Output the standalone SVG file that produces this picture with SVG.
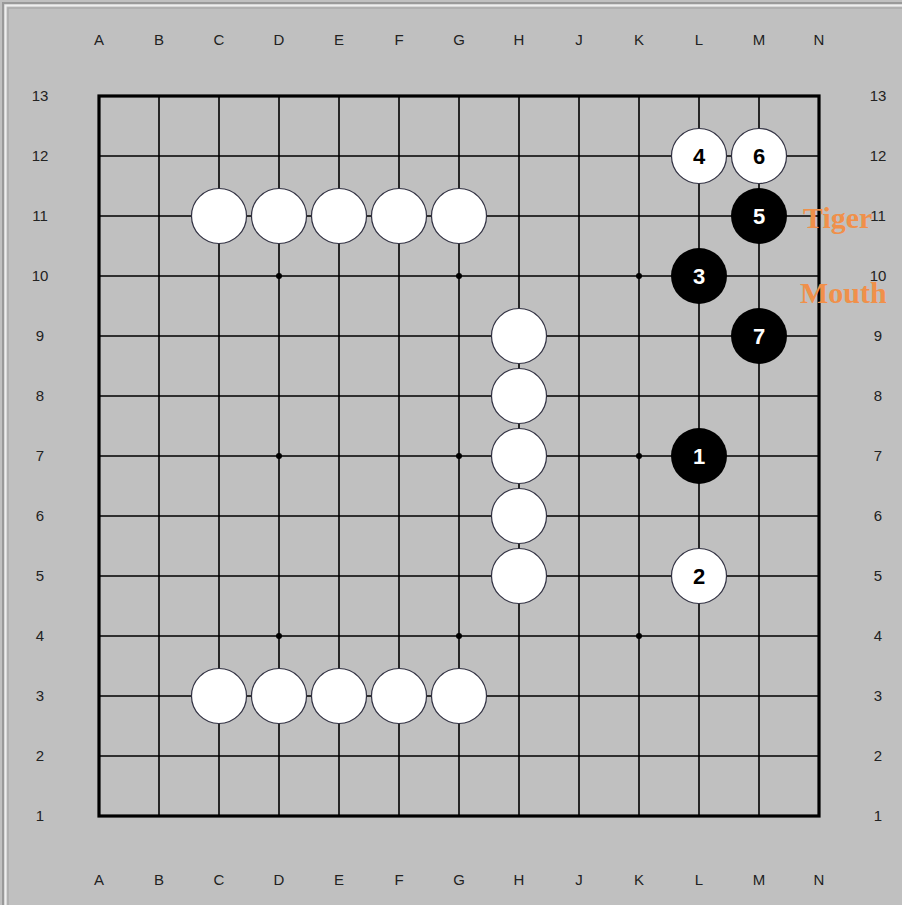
<svg xmlns="http://www.w3.org/2000/svg" width="902" height="905" viewBox="0 0 902 905">
<style>
.bg{fill:#c0c0c0}
.ln{stroke:#000;stroke-width:1.6}
.lbl{font-family:"Liberation Sans",Arial,sans-serif;font-size:15px;fill:#222;text-anchor:middle}
.w{fill:#fff;stroke:#334;stroke-width:1.2}
.b{fill:#000}
.nw{font-family:"Liberation Sans",Arial,sans-serif;font-weight:bold;font-size:22px;fill:#000;text-anchor:middle}
.nb{font-family:"Liberation Sans",Arial,sans-serif;font-weight:bold;font-size:22px;fill:#fff;text-anchor:middle}
.or{font-family:"Liberation Serif","Times New Roman",serif;font-weight:bold;font-size:30px;fill:#f0904a}
</style>
<rect width="902" height="905" class="bg"/>
<rect x="3" y="3" width="910" height="910" fill="none" stroke="#999" stroke-width="2"/>
<rect x="5.5" y="5.5" width="910" height="910" fill="none" stroke="#eee" stroke-width="2"/>
<rect x="8" y="8" width="910" height="910" fill="none" stroke="#aaa" stroke-width="1.5"/>
<g id="labels">
<g id="top-labels">
<text class="lbl" x="99" y="45">A</text><text class="lbl" x="159" y="45">B</text><text class="lbl" x="219" y="45">C</text><text class="lbl" x="279" y="45">D</text><text class="lbl" x="339" y="45">E</text><text class="lbl" x="399" y="45">F</text><text class="lbl" x="459" y="45">G</text><text class="lbl" x="519" y="45">H</text><text class="lbl" x="579" y="45">J</text><text class="lbl" x="639" y="45">K</text><text class="lbl" x="699" y="45">L</text><text class="lbl" x="759" y="45">M</text><text class="lbl" x="819" y="45">N</text>
</g>
<g id="bottom-labels">
<text class="lbl" x="99" y="885">A</text><text class="lbl" x="159" y="885">B</text><text class="lbl" x="219" y="885">C</text><text class="lbl" x="279" y="885">D</text><text class="lbl" x="339" y="885">E</text><text class="lbl" x="399" y="885">F</text><text class="lbl" x="459" y="885">G</text><text class="lbl" x="519" y="885">H</text><text class="lbl" x="579" y="885">J</text><text class="lbl" x="639" y="885">K</text><text class="lbl" x="699" y="885">L</text><text class="lbl" x="759" y="885">M</text><text class="lbl" x="819" y="885">N</text>
</g>
<g id="left-labels">
<text class="lbl" x="40" y="101">13</text><text class="lbl" x="40" y="161">12</text><text class="lbl" x="40" y="221">11</text><text class="lbl" x="40" y="281">10</text><text class="lbl" x="40" y="341">9</text><text class="lbl" x="40" y="401">8</text><text class="lbl" x="40" y="461">7</text><text class="lbl" x="40" y="521">6</text><text class="lbl" x="40" y="581">5</text><text class="lbl" x="40" y="641">4</text><text class="lbl" x="40" y="701">3</text><text class="lbl" x="40" y="761">2</text><text class="lbl" x="40" y="821">1</text>
</g>
<g id="right-labels">
<text class="lbl" x="878" y="101">13</text><text class="lbl" x="878" y="161">12</text><text class="lbl" x="878" y="221">11</text><text class="lbl" x="878" y="281">10</text><text class="lbl" x="878" y="341">9</text><text class="lbl" x="878" y="401">8</text><text class="lbl" x="878" y="461">7</text><text class="lbl" x="878" y="521">6</text><text class="lbl" x="878" y="581">5</text><text class="lbl" x="878" y="641">4</text><text class="lbl" x="878" y="701">3</text><text class="lbl" x="878" y="761">2</text><text class="lbl" x="878" y="821">1</text>
</g>
</g>
<g id="grid">
<path class="ln" d="M99 156H819M99 216H819M99 276H819M99 336H819M99 396H819M99 456H819M99 516H819M99 576H819M99 636H819M99 696H819M99 756H819"/>
<path class="ln" d="M159 96V816M219 96V816M279 96V816M339 96V816M399 96V816M459 96V816M519 96V816M579 96V816M639 96V816M699 96V816M759 96V816"/>
<rect x="99" y="96" width="720" height="720" fill="none" stroke="#000" stroke-width="3.2"/>
<g fill="#000">
<circle cx="279" cy="276" r="3"/><circle cx="459" cy="276" r="3"/><circle cx="639" cy="276" r="3"/>
<circle cx="279" cy="456" r="3"/><circle cx="459" cy="456" r="3"/><circle cx="639" cy="456" r="3"/>
<circle cx="279" cy="636" r="3"/><circle cx="459" cy="636" r="3"/><circle cx="639" cy="636" r="3"/>
</g>
</g>
<g id="stones">
<g id="C11"><circle class="w" cx="219" cy="216" r="27.5"/></g>
<g id="D11"><circle class="w" cx="279" cy="216" r="27.5"/></g>
<g id="E11"><circle class="w" cx="339" cy="216" r="27.5"/></g>
<g id="F11"><circle class="w" cx="399" cy="216" r="27.5"/></g>
<g id="G11"><circle class="w" cx="459" cy="216" r="27.5"/></g>
<g id="C3"><circle class="w" cx="219" cy="696" r="27.5"/></g>
<g id="D3"><circle class="w" cx="279" cy="696" r="27.5"/></g>
<g id="E3"><circle class="w" cx="339" cy="696" r="27.5"/></g>
<g id="F3"><circle class="w" cx="399" cy="696" r="27.5"/></g>
<g id="G3"><circle class="w" cx="459" cy="696" r="27.5"/></g>
<g id="H9"><circle class="w" cx="519" cy="336" r="27.5"/></g>
<g id="H8"><circle class="w" cx="519" cy="396" r="27.5"/></g>
<g id="H7"><circle class="w" cx="519" cy="456" r="27.5"/></g>
<g id="H6"><circle class="w" cx="519" cy="516" r="27.5"/></g>
<g id="H5"><circle class="w" cx="519" cy="576" r="27.5"/></g>
<g id="m1"><circle class="b" cx="699" cy="456" r="28"/><text class="nb" x="699" y="464">1</text></g>
<g id="m2"><circle class="w" cx="699" cy="576" r="27.5"/><text class="nw" x="699" y="584">2</text></g>
<g id="m3"><circle class="b" cx="699" cy="276" r="28"/><text class="nb" x="699" y="284">3</text></g>
<g id="m4"><circle class="w" cx="699" cy="156" r="27.5"/><text class="nw" x="699" y="164">4</text></g>
<g id="m5"><circle class="b" cx="759" cy="216" r="28"/><text class="nb" x="759" y="224">5</text></g>
<g id="m6"><circle class="w" cx="759" cy="156" r="27.5"/><text class="nw" x="759" y="164">6</text></g>
<g id="m7"><circle class="b" cx="759" cy="336" r="28"/><text class="nb" x="759" y="344">7</text></g>
</g>
<g id="annotations">
<text class="or" x="803" y="228">Tiger</text>
<text class="or" x="800" y="303">Mouth</text>
</g>
</svg>
